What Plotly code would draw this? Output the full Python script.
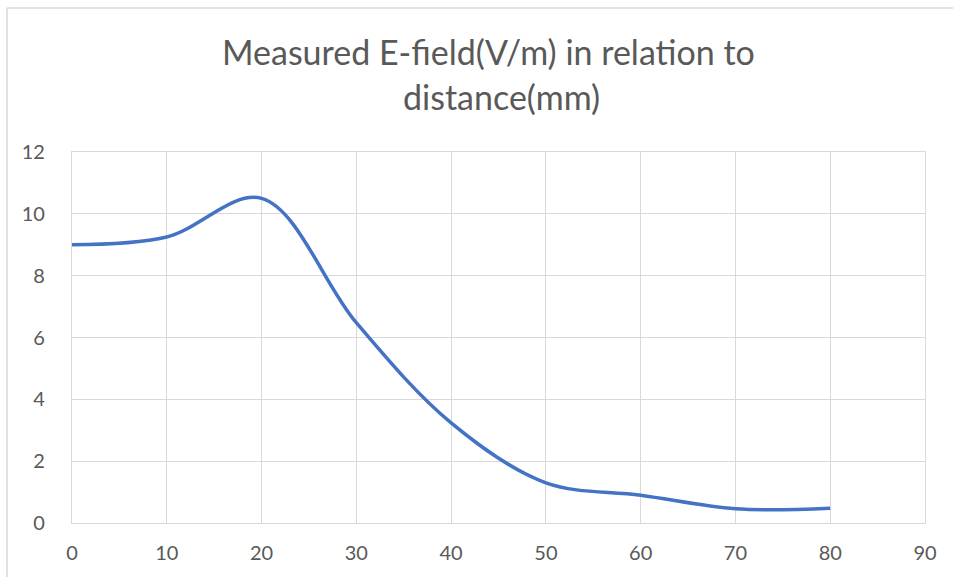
import plotly.graph_objects as go

distance_mm = [0, 10, 20, 30, 40, 50, 60, 70, 80]
efield_vm = [9.0, 9.25, 10.5, 6.48, 3.24, 1.30, 0.90, 0.46, 0.48]

x_ticks = [0, 10, 20, 30, 40, 50, 60, 70, 80, 90]
y_ticks = [0, 2, 4, 6, 8, 10, 12]

title_lines = ["Measured E-field(V/m) in relation to", "distance(mm)"]

FONT = "Lato"
GREY = "#595959"
GRID = "#d9d9d9"

fig = go.Figure()
fig.add_trace(go.Scatter(
    x=distance_mm, y=efield_vm, mode="lines",
    line=dict(color="#4472C4", width=3.5, shape="spline", smoothing=1.0),
    showlegend=False, hoverinfo="x+y",
))

W, H = 953, 577
L, R, T, B = 72, 28, 152, 54
pw, ph = W - L - R, H - T - B

def px(xp):
    return (xp - L) / pw

def py(yp):
    return (H - B - yp) / ph

fig.update_layout(
    width=W, height=H,
    margin=dict(l=L, r=R, t=T, b=B, pad=0),
    paper_bgcolor="white", plot_bgcolor="white",
    font=dict(family=FONT, color=GREY, size=20),
    xaxis=dict(range=[0, 90], tickvals=x_ticks, ticktext=[str(v) for v in x_ticks],
               showgrid=True, gridcolor=GRID, gridwidth=1.3, zeroline=False,
               showline=True, linecolor=GRID, linewidth=1.3, mirror=True,
               ticks="", ticklen=0, tickfont=dict(size=20, color=GREY)),
    yaxis=dict(range=[0, 12], tickvals=y_ticks, ticktext=[str(v) for v in y_ticks],
               showgrid=True, gridcolor=GRID, gridwidth=1.3, zeroline=False,
               showline=True, linecolor=GRID, linewidth=1.3, mirror=True,
               ticks="", ticklen=0, tickfont=dict(size=20, color=GREY)),
    annotations=[
        dict(text=title_lines[0], x=px(488), y=py(52), xref="paper", yref="paper",
             xanchor="center", yanchor="middle", showarrow=False,
             font=dict(family=FONT, size=34, color=GREY)),
        dict(text=title_lines[1], x=px(501), y=py(97), xref="paper", yref="paper",
             xanchor="center", yanchor="middle", showarrow=False,
             font=dict(family=FONT, size=34, color=GREY)),
    ],
    shapes=[
        dict(type="line", xref="paper", yref="paper", x0=px(7), x1=px(7), y0=py(8), y1=py(580),
             line=dict(color=GRID, width=1.5)),
        dict(type="line", xref="paper", yref="paper", x0=px(7), x1=px(960), y0=py(8), y1=py(8),
             line=dict(color=GRID, width=1.5)),
    ],
)
fig.update_yaxes(ticklabelstandoff=22)
fig.update_xaxes(ticklabelstandoff=12)

fig.write_html("out.html")
